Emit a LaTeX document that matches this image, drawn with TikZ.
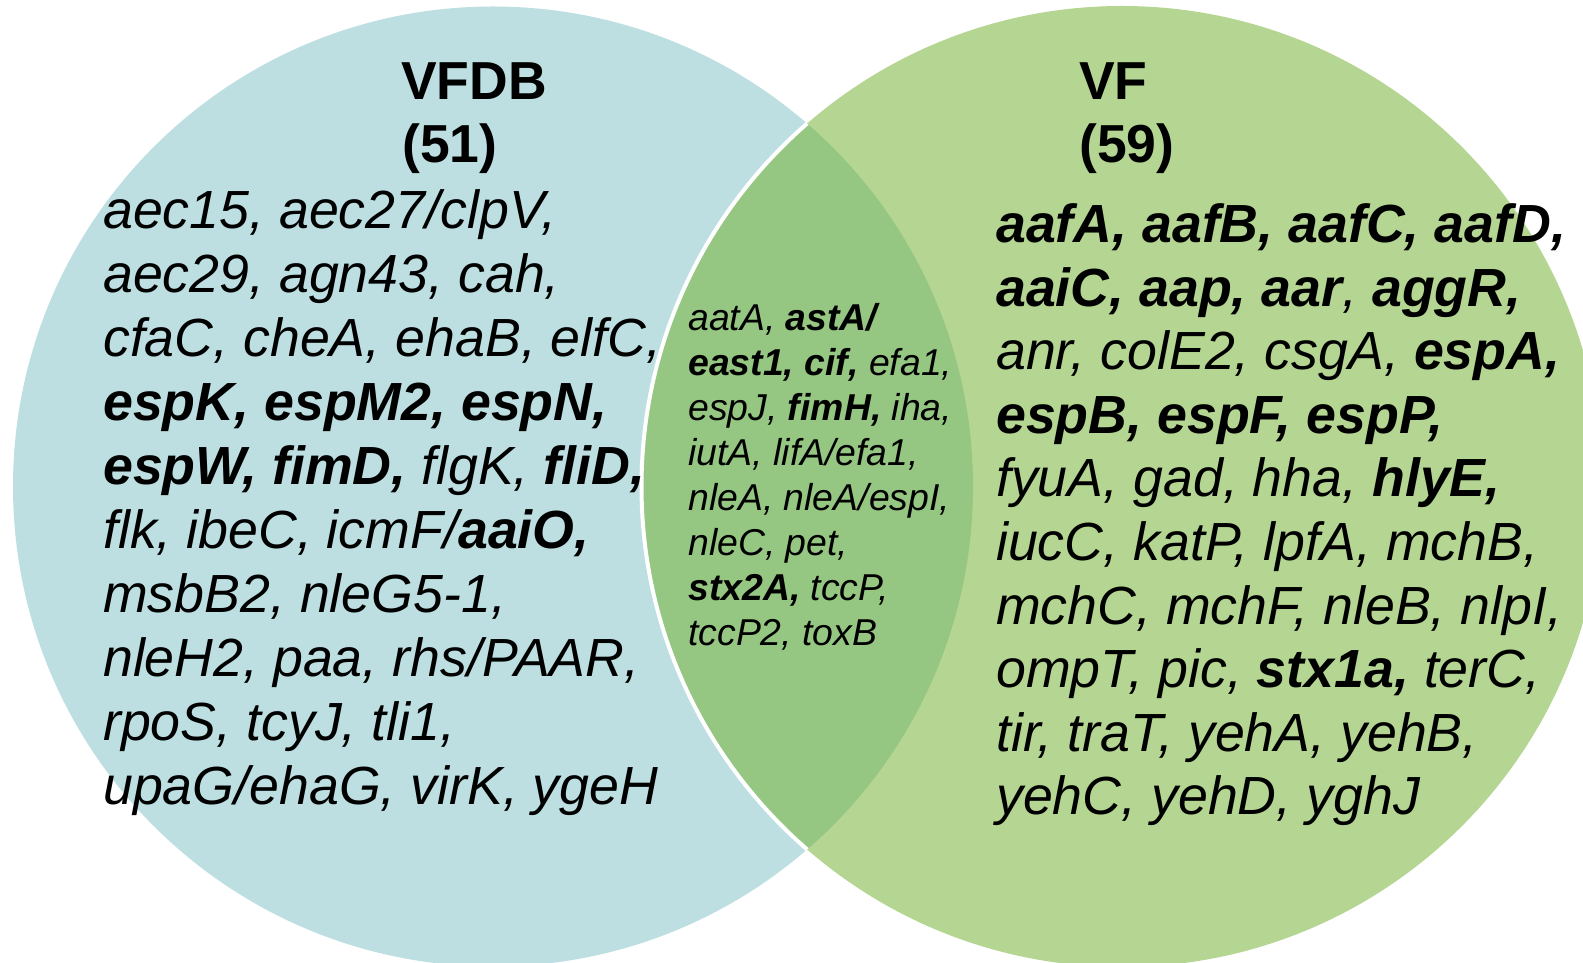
\documentclass[tikz,border=0pt]{standalone}
\usepackage{fontspec}
\setmainfont{Liberation Sans}
\definecolor{vfdbblue}{HTML}{BDDFE1}
\definecolor{vfgreen}{HTML}{B5D692}
\definecolor{bothgreen}{HTML}{95C682}
\newcommand\gb[1]{\textbf{#1}}
\begin{document}
\begin{tikzpicture}[x=1pt,y=1pt,
  title/.style={anchor=base west, inner sep=0pt, font=\fontsize{53.5}{60}\selectfont\bfseries},
  gene/.style={anchor=base west, inner sep=0pt, font=\fontsize{53.7}{60}\selectfont\itshape},
  small gene/.style={anchor=base west, inner sep=0pt, font=\fontsize{37.4}{44}\selectfont\itshape}]
\useasboundingbox (0,0) rectangle (1583,962);
\clip (0,0) rectangle (1583,962);

% the two sets
\coordinate (cl) at (493,475.5);
\coordinate (cr) at (1122,475.5);
\fill[vfdbblue] (cl) circle[radius=480pt];
\fill[vfgreen] (cr) circle[radius=480.5pt];
\begin{scope}
  \clip (cl) circle[radius=480pt];
  \fill[bothgreen] (cr) circle[radius=480.5pt];
  \draw[white, line width=4pt] (cr) circle[radius=480.5pt];
\end{scope}

% headings
\node[title] (t1) at (401,862) {VFDB};
\node[title] (n1) at (402,799) {(51)};
\node[title] (t2) at (1079,862) {VF};
\node[title] (n2) at (1079,799) {(59)};

% genes found only with VFDB
\foreach \t [count=\i] in {
  {aec15, aec27/clpV,},
  {aec29, agn43, cah,},
  {cfaC, cheA, ehaB, elfC,},
  {\gb{espK, espM2, espN,}},
  {\gb{espW, fimD,} flgK, \gb{fliD,}},
  {flk, ibeC, icmF/\gb{aaiO,}},
  {msbB2, nleG5-1,},
  {nleH2, paa, rhs/PAAR,},
  {rpoS, tcyJ, tli1,},
  {upaG/ehaG, virK, ygeH}}
  \node[gene] (L\i) at (103,{962-228.5-(\i-1)*64}) {\t};

% genes found with both
\foreach \t [count=\i] in {
  {aatA, \gb{astA/}},
  {\gb{east1, cif,} efa1,},
  {espJ, \gb{fimH,} iha,},
  {iutA, lifA/efa1,},
  {nleA, nleA/espI,},
  {nleC, pet,},
  {\gb{stx2A,} tccP,},
  {tccP2, toxB}}
  \node[small gene] (M\i) at (688,{962-330.5-(\i-1)*45}) {\t};

% genes found only with VF
\foreach \t [count=\i] in {
  {\gb{aafA, aafB, aafC, aafD,}},
  {\gb{aaiC, aap, aar}, \gb{aggR,}},
  {anr, colE2, csgA, \gb{espA,}},
  {\gb{espB, espF, espP,}},
  {fyuA, gad, hha, \gb{hlyE,}},
  {iucC, katP, lpfA, mchB,},
  {mchC, mchF, nleB, nlpI,},
  {ompT, pic, \gb{stx1a,} terC,},
  {tir, traT, yehA, yehB,},
  {yehC, yehD, yghJ}}
  \node[gene] (R\i) at (996,{962-242.5-(\i-1)*63.6}) {\t};
\end{tikzpicture}
\end{document}
